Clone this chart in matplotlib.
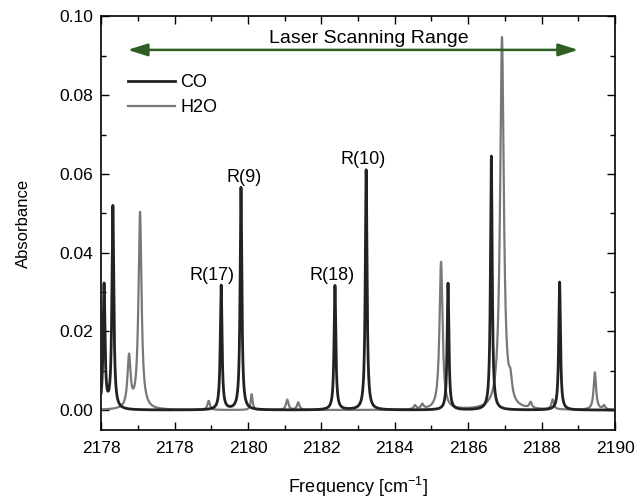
import matplotlib
matplotlib.use('Agg')
import matplotlib.pyplot as plt
import numpy as np
from matplotlib.ticker import MultipleLocator, FormatStrFormatter

plt.rcParams.update({
    'font.family': ['Liberation Sans', 'DejaVu Sans'],
    'mathtext.default': 'regular',
    'font.size': 12,
    'xtick.direction': 'in',
    'ytick.direction': 'in',
    'xtick.top': True,
    'ytick.right': True,
})

C_CO = '#222222'
C_H2O = '#787878'
C_ARROW = '#2f5f22'

# ── Line parameters (centre cm-1, peak absorbance, HWHM cm-1)
co_pos = [2176.08, 2176.32, 2179.27, 2179.81, 2182.37, 2183.22, 2185.45, 2186.63, 2188.49]
co_hgt = [0.0315, 0.0515, 0.0316, 0.0565, 0.0316, 0.0610, 0.0322, 0.0645, 0.0325]
co_wid = [0.03, 0.03, 0.028, 0.028, 0.028, 0.028, 0.028, 0.028, 0.028]

h2o_pos = [2176.76, 2177.06, 2178.93, 2180.10, 2181.07, 2181.37, 2184.55, 2184.75,
           2185.26, 2186.92, 2187.15, 2187.70, 2188.30, 2189.45, 2189.70]
h2o_hgt = [0.0130, 0.0500, 0.0023, 0.0040, 0.0026, 0.0019, 0.0010, 0.0012,
           0.0375, 0.0945, 0.0045, 0.0015, 0.0025, 0.0095, 0.0010]
h2o_wid = [0.05, 0.05, 0.04, 0.03, 0.04, 0.04, 0.04, 0.04,
           0.05, 0.06, 0.05, 0.04, 0.04, 0.04, 0.04]

# labelled CO transitions
lbl_text = ['R(17)', 'R(9)', 'R(18)', 'R(10)']
lbl_pos = [2179.27, 2179.81, 2182.37, 2183.22]
lbl_hgt = [0.0316, 0.0565, 0.0316, 0.0610]
lbl_dx = [-6.5, 2, -2, -2.5]

scan_lo, scan_hi, scan_y = 2176.72, 2189.0, 0.0915

nu = np.linspace(2176, 2190, 14001)


def spectrum(pos, hgt, wid):
    s = np.zeros_like(nu)
    for p, h, w in zip(pos, hgt, wid):
        s += h * w**2 / ((nu - p)**2 + w**2)
    return s


co = spectrum(co_pos, co_hgt, co_wid)
h2o = spectrum(h2o_pos, h2o_hgt, h2o_wid)

fig = plt.figure(figsize=(6.4, 4.98), dpi=100)
ax = fig.add_axes([0.158, 0.137, 0.803, 0.830])

ax.plot(nu, h2o, color=C_H2O, lw=1.6, label='H2O', zorder=2)
ax.plot(nu, co, color=C_CO, lw=2.0, label='CO', zorder=3)

for t, p, h, dx in zip(lbl_text, lbl_pos, lbl_hgt, lbl_dx):
    ax.annotate(t, xy=(p, h), xytext=(dx, 1.5), textcoords='offset points',
                ha='center', va='bottom', fontsize=13)

ax.annotate('', xy=(scan_lo, scan_y), xytext=(scan_hi, scan_y),
            arrowprops=dict(arrowstyle='<|-|>,head_length=0.8,head_width=0.25',
                            color=C_ARROW, lw=1.8, mutation_scale=15,
                            shrinkA=0, shrinkB=0))
ax.text(2183.29, scan_y + 0.0017, 'Laser Scanning Range',
        ha='center', va='baseline', fontsize=14)

ax.set_xlim(2176, 2190)
ax.set_ylim(-0.005, 0.10)
ax.xaxis.set_major_locator(MultipleLocator(2))
ax.xaxis.set_minor_locator(MultipleLocator(1))
ax.yaxis.set_major_locator(MultipleLocator(0.02))
ax.yaxis.set_minor_locator(MultipleLocator(0.01))
ax.yaxis.set_major_formatter(FormatStrFormatter('%.2f'))
ax.set_xticks(np.arange(2176, 2191, 2))
ax.set_xticklabels(['2178', '2178', '2180', '2182', '2184', '2186', '2188', '2190'])
ax.tick_params(which='major', length=6, width=1, labelsize=12.5)
ax.tick_params(axis='x', which='major', pad=8)
ax.tick_params(axis='y', which='major', pad=6)
ax.tick_params(which='minor', length=3.5, width=1)
for s in ax.spines.values():
    s.set_linewidth(1.2)

ax.set_xlabel('Frequency [cm$^{-1}$]', fontsize=13, labelpad=14)
ax.set_ylabel('Absorbance', fontsize=12, labelpad=20)

handles, labels = ax.get_legend_handles_labels()
ax.legend(handles[::-1], labels[::-1], loc='upper left', bbox_to_anchor=(0.02, 0.90),
          frameon=False, handlelength=2.6, handletextpad=0.3, labelspacing=0.45,
          fontsize=13)

fig.savefig('out.png', dpi=100)
